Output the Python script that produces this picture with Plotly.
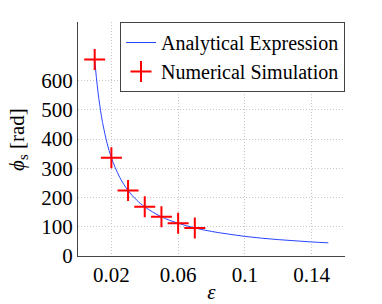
import plotly.graph_objects as go

# Analytical curve
eps_line = [0.01, 0.011, 0.012, 0.013, 0.014, 0.015, 0.0175, 0.02, 0.025, 0.03, 0.035,
            0.04, 0.05, 0.06, 0.07, 0.08, 0.09, 0.10, 0.11, 0.12, 0.13, 0.14, 0.15]
phi_line = [672, 611, 560, 517, 480, 448, 384, 336, 269, 224, 192,
            168, 134, 112, 96, 84, 75, 67, 61, 56, 52, 48, 45]

# Numerical simulation points
eps_sim = [0.01, 0.02, 0.03, 0.04, 0.05, 0.06, 0.07]
phi_sim = [672, 336, 224, 168, 134, 112, 96]

x_ticks = [0.02, 0.06, 0.1, 0.14]
x_ticklabels = ["0.02", "0.06", "0.1", "0.14"]
y_ticks = [0, 100, 200, 300, 400, 500, 600]

font_family = "'Liberation Serif', 'Times New Roman', 'DejaVu Serif', serif"

fig = go.Figure()
fig.add_trace(go.Scatter(
    x=eps_line, y=phi_line, mode="lines", name="Analytical Expression",
    line=dict(color="rgb(40,70,255)", width=1), line_shape="spline"))
fig.add_trace(go.Scatter(
    x=eps_sim, y=phi_sim, mode="markers", name="Numerical Simulation",
    marker=dict(symbol="cross-thin", size=15, line=dict(color="red", width=2), color="red")))

fig.update_layout(
    width=382, height=304,
    margin=dict(l=78, r=37, t=22, b=48),
    paper_bgcolor="white", plot_bgcolor="white",
    font=dict(family=font_family, color="black", size=21),
    showlegend=True,
    legend=dict(x=1, xanchor="right", y=1, yanchor="top",
                bordercolor="#444", borderwidth=1, bgcolor="white",
                font=dict(size=20, family=font_family),
                tracegroupgap=0, itemwidth=30),
    annotations=[dict(text="<i>ϕ</i><sub>s</sub> [rad]", xref="paper", yref="paper",
                      x=-0.225, y=0.5, xanchor="center", yanchor="middle",
                      textangle=-90, showarrow=False,
                      font=dict(size=21, family=font_family))],
)
fig.update_xaxes(
    range=[0, 0.16], tickvals=x_ticks, ticktext=x_ticklabels, automargin=False,
    showgrid=True, gridcolor="#c8c8c8", griddash="1px,2px", gridwidth=1,
    showline=True, linecolor="#444", linewidth=1, zeroline=False,
    ticks="", title=dict(text="<i>ε</i>", font=dict(size=21, family=font_family), standoff=0),
    tickfont=dict(size=21, family=font_family))
fig.update_yaxes(
    range=[0, 800], tickvals=y_ticks, automargin=False,
    showgrid=True, gridcolor="#c8c8c8", griddash="1px,2px", gridwidth=1,
    showline=True, linecolor="#444", linewidth=1, zeroline=False,
    ticks="", tickfont=dict(size=21, family=font_family))

fig.write_html("out.html", post_script="document.body.style.margin='0';",
               config={"displayModeBar": False})
